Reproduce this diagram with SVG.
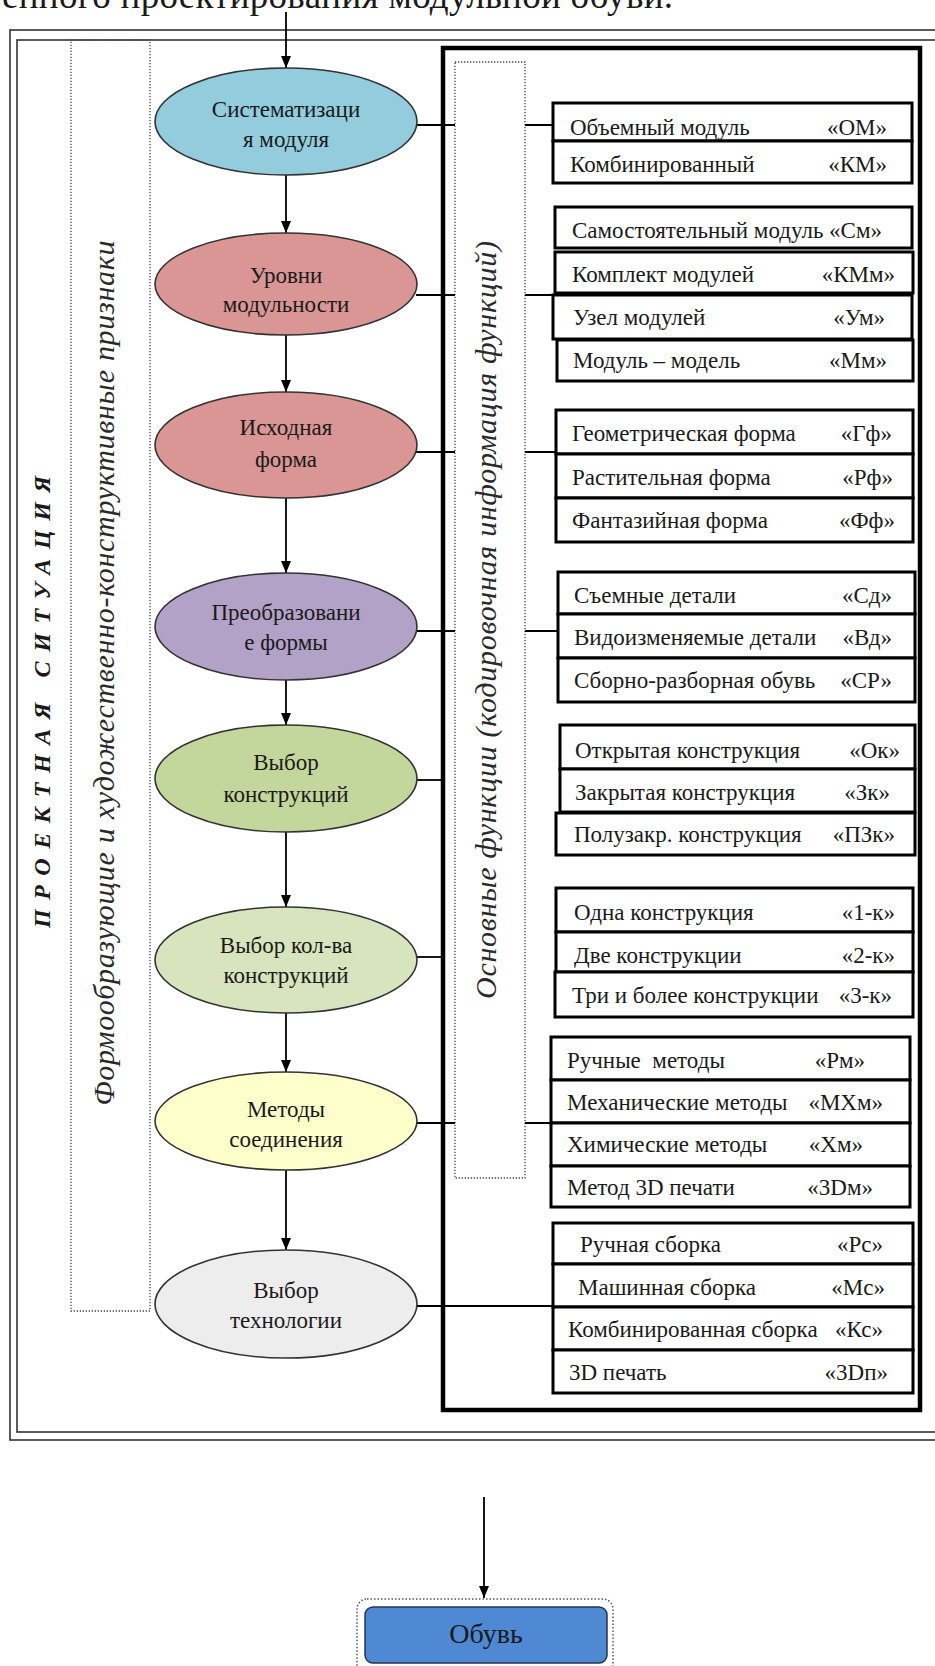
<svg xmlns="http://www.w3.org/2000/svg" width="935" height="1666" viewBox="0 0 935 1666">
<defs>
<marker id="ah" viewBox="0 0 12 10" refX="12" refY="5" markerWidth="12" markerHeight="10" markerUnits="userSpaceOnUse" orient="auto"><path d="M0,0 L12,5 L0,10 z" fill="#000"/></marker>
<style>
text{font-family:"Liberation Serif","Times New Roman",serif;fill:#1a1a1a}
.et{font-size:23px;text-anchor:middle}
.bt{font-size:23px;white-space:pre}
.c{text-anchor:end}
.e{stroke:#333;stroke-width:1.6}
.b{fill:#fff;stroke:#000;stroke-width:3}
.dot{fill:none;stroke:#444;stroke-width:1.3;stroke-dasharray:1.3 1.7}
.frame{fill:none;stroke:#333;stroke-width:1.6}
.ln{stroke:#000;stroke-width:1.8;fill:none}
.ar{stroke:#000;stroke-width:1.8;fill:none;marker-end:url(#ah)}
.vt{font-size:30px;font-style:italic;fill:#2a2a2a;text-anchor:middle}
</style>
</defs>

<text x="2" y="8" textLength="671" lengthAdjust="spacing" style="font-size:37px">енного проектирования модульной обуви.</text>

<g id="frame">
<rect class="frame" x="10" y="30" width="945" height="1410"/>
<rect class="frame" x="17" y="40" width="940" height="1392"/>
<rect x="443" y="48" width="477" height="1362" fill="none" stroke="#000" stroke-width="4.5"/>
</g>

<g id="label-situation">
<text transform="translate(50,697) rotate(-90)" text-anchor="middle" textLength="462" lengthAdjust="spacing" style="font-size:24px;font-weight:bold;font-style:italic;letter-spacing:10px">ПРОЕКТНАЯ СИТУАЦИЯ</text>
</g>

<g id="label-form">
<rect class="dot" x="71" y="40" width="79" height="1271"/>
<text class="vt" transform="translate(114,673) rotate(-90)" textLength="865" lengthAdjust="spacing">Формообразующие и художественно-конструктивные признаки</text>
</g>

<g id="label-functions">
<rect class="dot" x="455" y="62" width="70" height="1116"/>
<text class="vt" transform="translate(496,620) rotate(-90)" textLength="758" lengthAdjust="spacing">Основные функции (кодировочная информация функций)</text>
</g>

<g id="connectors">
<path class="ar" d="M286,12 V68"/>
<path class="ar" d="M286,175 V233"/>
<path class="ar" d="M286,335 V392"/>
<path class="ar" d="M286,498 V573"/>
<path class="ar" d="M286,680 V725"/>
<path class="ar" d="M286,832 V907"/>
<path class="ar" d="M286,1013 V1072"/>
<path class="ar" d="M286,1170 V1250"/>
<path class="ln" d="M416,125 H455 M525,125 H553"/>
<path class="ln" d="M416,295 H455 M525,295 H555"/>
<path class="ln" d="M416,452 H455 M525,452 H556"/>
<path class="ln" d="M416,631 H455 M525,631 H558"/>
<path class="ln" d="M416,780 H443"/>
<path class="ln" d="M416,957 H443"/>
<path class="ln" d="M416,1123 H455 M525,1123 H551"/>
<path class="ln" d="M416,1306 H553"/>
<path class="ar" d="M484,1497 V1598"/>
</g>

<g id="n1"><ellipse class="e" cx="286" cy="121.5" rx="131" ry="53.5" fill="#93CDDD"/>
<text class="et" x="286" y="117">Систематизаци</text><text class="et" x="286" y="147">я модуля</text></g>
<g id="n2"><ellipse class="e" cx="286" cy="284" rx="131" ry="51" fill="#D99694"/>
<text class="et" x="286" y="283">Уровни</text><text class="et" x="286" y="312">модульности</text></g>
<g id="n3"><ellipse class="e" cx="286" cy="445" rx="131" ry="53" fill="#D99694"/>
<text class="et" x="286" y="435">Исходная</text><text class="et" x="286" y="467">форма</text></g>
<g id="n4"><ellipse class="e" cx="286" cy="626.5" rx="131" ry="53.5" fill="#B3A2C7"/>
<text class="et" x="286" y="620">Преобразовани</text><text class="et" x="286" y="650">е формы</text></g>
<g id="n5"><ellipse class="e" cx="286" cy="778.5" rx="131" ry="53.5" fill="#C3D69B"/>
<text class="et" x="286" y="770">Выбор</text><text class="et" x="286" y="802">конструкций</text></g>
<g id="n6"><ellipse class="e" cx="286" cy="960" rx="131" ry="53" fill="#D7E4BD"/>
<text class="et" x="286" y="953">Выбор кол-ва</text><text class="et" x="286" y="983">конструкций</text></g>
<g id="n7"><ellipse class="e" cx="286" cy="1121" rx="131" ry="49" fill="#FFFFCC"/>
<text class="et" x="286" y="1117">Методы</text><text class="et" x="286" y="1147">соединения</text></g>
<g id="n8"><ellipse class="e" cx="286" cy="1304" rx="131" ry="54" fill="#EDEDED"/>
<text class="et" x="286" y="1298">Выбор</text><text class="et" x="286" y="1328">технологии</text></g>

<g id="g1">
<rect class="b" x="553" y="103" width="359" height="38"/><rect class="b" x="553" y="141" width="359" height="42"/>
<text class="bt" x="570" y="135">Объемный модуль</text><text class="bt c" x="887" y="135">«ОМ»</text>
<text class="bt" x="570" y="172">Комбинированный</text><text class="bt c" x="887" y="172">«КМ»</text>
</g>
<g id="g2">
<rect class="b" x="555" y="207" width="357" height="41"/><rect class="b" x="555" y="252" width="358" height="41"/>
<rect class="b" x="553" y="295" width="359" height="44"/><rect class="b" x="557" y="340" width="356" height="41"/>
<text class="bt" x="572" y="238">Самостоятельный модуль «См»</text>
<text class="bt" x="572" y="282">Комплект модулей</text><text class="bt c" x="895" y="282">«КМм»</text>
<text class="bt" x="573" y="325">Узел модулей</text><text class="bt c" x="885" y="325">«Ум»</text>
<text class="bt" x="573" y="368">Модуль – модель</text><text class="bt c" x="887" y="368">«Мм»</text>
</g>
<g id="g3">
<rect class="b" x="556" y="410" width="357" height="44"/><rect class="b" x="556" y="454" width="357" height="44"/><rect class="b" x="556" y="498" width="357" height="44"/>
<text class="bt" x="572" y="441">Геометрическая форма</text><text class="bt c" x="892" y="441">«Гф»</text>
<text class="bt" x="572" y="485">Растительная форма</text><text class="bt c" x="893" y="485">«Рф»</text>
<text class="bt" x="572" y="528">Фантазийная форма</text><text class="bt c" x="895" y="528">«Фф»</text>
</g>
<g id="g4">
<rect class="b" x="558" y="572" width="357" height="42"/><rect class="b" x="558" y="614" width="357" height="44"/><rect class="b" x="558" y="658" width="357" height="44"/>
<text class="bt" x="574" y="603">Съемные детали</text><text class="bt c" x="892" y="603">«Сд»</text>
<text class="bt" x="574" y="645">Видоизменяемые детали</text><text class="bt c" x="892" y="645">«Вд»</text>
<text class="bt" x="574" y="688">Сборно-разборная обувь</text><text class="bt c" x="892" y="688">«СР»</text>
</g>
<g id="g5">
<rect class="b" x="560" y="725" width="355" height="44"/><rect class="b" x="560" y="769" width="355" height="43"/><rect class="b" x="556" y="813" width="359" height="42"/>
<text class="bt" x="575" y="758">Открытая конструкция</text><text class="bt c" x="900" y="758">«Ок»</text>
<text class="bt" x="575" y="800">Закрытая конструкция</text><text class="bt c" x="890" y="800">«Зк»</text>
<text class="bt" x="574" y="842">Полузакр. конструкция</text><text class="bt c" x="895" y="842">«ПЗк»</text>
</g>
<g id="g6">
<rect class="b" x="556" y="888" width="357" height="44"/><rect class="b" x="556" y="932" width="357" height="40"/><rect class="b" x="555" y="972" width="358" height="45"/>
<text class="bt" x="574" y="920">Одна конструкция</text><text class="bt c" x="895" y="920">«1-к»</text>
<text class="bt" x="574" y="963">Две конструкции</text><text class="bt c" x="895" y="963">«2-к»</text>
<text class="bt" x="572" y="1003">Три и более конструкции</text><text class="bt c" x="892" y="1003">«3-к»</text>
</g>
<g id="g7">
<rect class="b" x="551" y="1037" width="359" height="43"/><rect class="b" x="551" y="1080" width="359" height="43"/><rect class="b" x="551" y="1123" width="359" height="43"/><rect class="b" x="551" y="1166" width="359" height="41"/>
<text class="bt" x="567" y="1068">Ручные  методы</text><text class="bt c" x="865" y="1068">«Рм»</text>
<text class="bt" x="567" y="1110">Механические методы</text><text class="bt c" x="883" y="1110">«МХм»</text>
<text class="bt" x="567" y="1152">Химические методы</text><text class="bt c" x="863" y="1152">«Хм»</text>
<text class="bt" x="567" y="1195">Метод 3D печати</text><text class="bt c" x="873" y="1195">«3Dм»</text>
</g>
<g id="g8">
<rect class="b" x="553" y="1223" width="360" height="41"/><rect class="b" x="553" y="1264" width="360" height="43"/><rect class="b" x="553" y="1307" width="360" height="43"/><rect class="b" x="553" y="1350" width="360" height="43"/>
<text class="bt" x="580" y="1252">Ручная сборка</text><text class="bt c" x="883" y="1252">«Рс»</text>
<text class="bt" x="578" y="1295">Машинная сборка</text><text class="bt c" x="885" y="1295">«Мс»</text>
<text class="bt" x="568" y="1337">Комбинированная сборка</text><text class="bt c" x="883" y="1337">«Кс»</text>
<text class="bt" x="569" y="1380">3D печать</text><text class="bt c" x="888" y="1380">«3Dп»</text>
</g>

<g id="shoe">
<rect x="357" y="1599" width="256" height="76" rx="10" fill="none" stroke="#555" stroke-width="1.5" stroke-dasharray="1.5 2"/>
<rect x="365" y="1607" width="242" height="56" rx="8" fill="#4F88D3" stroke="#24364f" stroke-width="1.5"/>
<text x="486" y="1643" text-anchor="middle" style="font-size:28px">Обувь</text>
</g>
</svg>
